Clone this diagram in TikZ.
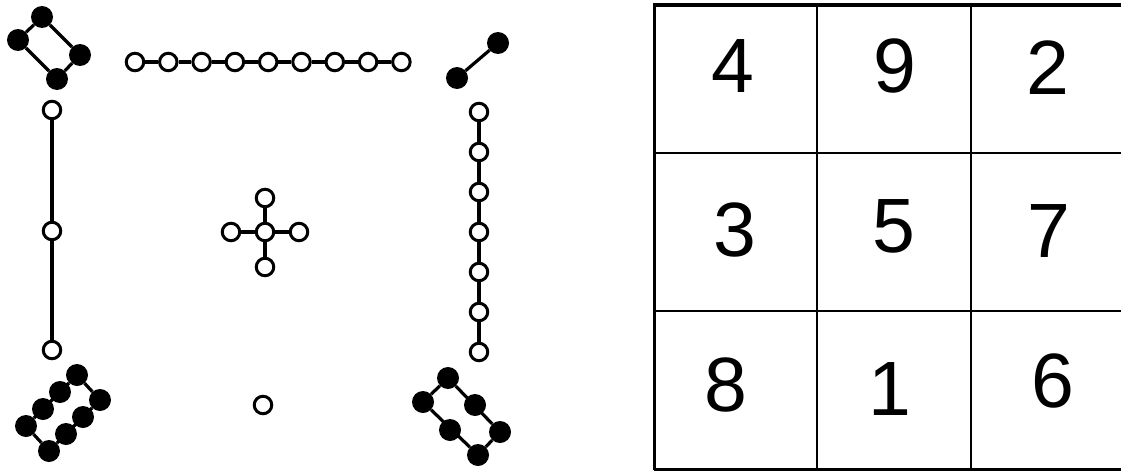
\documentclass[tikz,border=0pt]{standalone}
\usepackage{fontspec}
\setmainfont{Liberation Sans}
\usetikzlibrary{calc}

\begin{document}
\begin{tikzpicture}[x=1pt, y=-1pt]
      \tikzstyle{open}=[draw, circle, line width=3pt, fill=white, minimum size=17.5pt, inner sep=0pt];
      \tikzstyle{dot}=[fill, circle, minimum size=22pt, inner sep=0pt];
      \tikzstyle{link}=[line width=3.2pt];
      \tikzstyle{digit}=[font=\fontsize{77}{77}\selectfont, inner sep=0pt];

      \pgfdeclarelayer{foreground}
      \pgfdeclarelayer{background}
      \pgfsetlayers{background,%
        main,%
        foreground%
      }

      \useasboundingbox (0, 0) rectangle (1121, 471);

      \begin{pgfonlayer}{foreground}
        % four
        \node[dot] (fa) at (42, 17) {};
        \node[dot] (fb) at (18, 40) {};
        \node[dot] (fc) at (57, 79) {};
        \node[dot] (fd) at (80, 55) {};
        % nine
        \foreach \i in {1,...,9}
          \node[open] (n\i) at ({135 + 33.3*(\i-1)}, 62) {};
        % two
        \node[dot] (ta) at (457, 78) {};
        \node[dot] (tb) at (498, 43) {};
        % three
        \node[open] (ha) at (52, 110) {};
        \node[open] (hb) at (52, 231) {};
        \node[open] (hc) at (52, 350) {};
        % seven
        \foreach \i in {1,...,7}
          \node[open] (s\i) at (479, {112 + 40*(\i-1)}) {};
        % five
        \node[open] (c) at (265, 232) {};
        \node[open] (top) at (265, 198) {};
        \node[open] (bottom) at (265, 267) {};
        \node[open] (l) at (231, 232) {};
        \node[open] (r) at (299, 232) {};
        % one
        \node[open] (one) at (263, 405) {};
        % eight
        \foreach \i in {1,...,4} {
          \node[dot] (ea\i) at ({77 - 17*(\i-1)}, {375 + 17*(\i-1)}) {};
          \node[dot] (eb\i) at ({100 - 17*(\i-1)}, {400 + 17*(\i-1)}) {};
        }
        % six
        \node[dot] (xa1) at (448, 378) {};
        \node[dot] (xa2) at (475, 405) {};
        \node[dot] (xa3) at (500, 432) {};
        \node[dot] (xb1) at (423, 402) {};
        \node[dot] (xb2) at (450, 430) {};
        \node[dot] (xb3) at (478, 455) {};
      \end{pgfonlayer}

      \begin{pgfonlayer}{background}
        \draw[link] (fa) -- (fb) -- (fc) -- (fd) -- (fa);
        \draw[link] (n1) -- (n2) -- (n3) -- (n4) -- (n5) -- (n6) -- (n7) -- (n8) -- (n9);
        \draw[link] (ta) -- (tb);
        \draw[link] (ha) -- (hb) -- (hc);
        \draw[link] (s1) -- (s2) -- (s3) -- (s4) -- (s5) -- (s6) -- (s7);
        \draw[link] (top) -- (bottom);
        \draw[link] (l) -- (r);
        \draw[link] (ea1) -- (ea4) -- (eb4) -- (eb1) -- (ea1);
        \draw[link] (xa1) -- (xa3) -- (xb3) -- (xb1) -- (xa1);
      \end{pgfonlayer}

      % square
      \draw[line width=1.6pt] (817, 5) -- (817, 470);
      \draw[line width=1.6pt] (971, 5) -- (971, 470);
      \draw[line width=1.6pt] (656, 153) -- (1121, 153);
      \draw[line width=1.6pt] (656, 311) -- (1121, 311);
      \draw[line width=3.5pt] (1121, 5) -- (654.25, 5) -- (654.25, 470);
      \draw[line width=2.5pt] (654.25, 469.5) -- (1121, 469.5);

      \node[digit] (d4) at (733, 66) {4};
      \node[digit] (d9) at (895, 66) {9};
      \node[digit] (d2) at (1048, 68) {2};
      \node[digit] (d3) at (735, 230) {3};
      \node[digit] (d5) at (894, 226) {5};
      \node[digit] (d7) at (1049, 231) {7};
      \node[digit] (d8) at (726, 385) {8};
      \node[digit] (d1) at (890, 389) {1};
      \node[digit] (d6) at (1053, 381) {6};
    \end{tikzpicture}
\end{document}
